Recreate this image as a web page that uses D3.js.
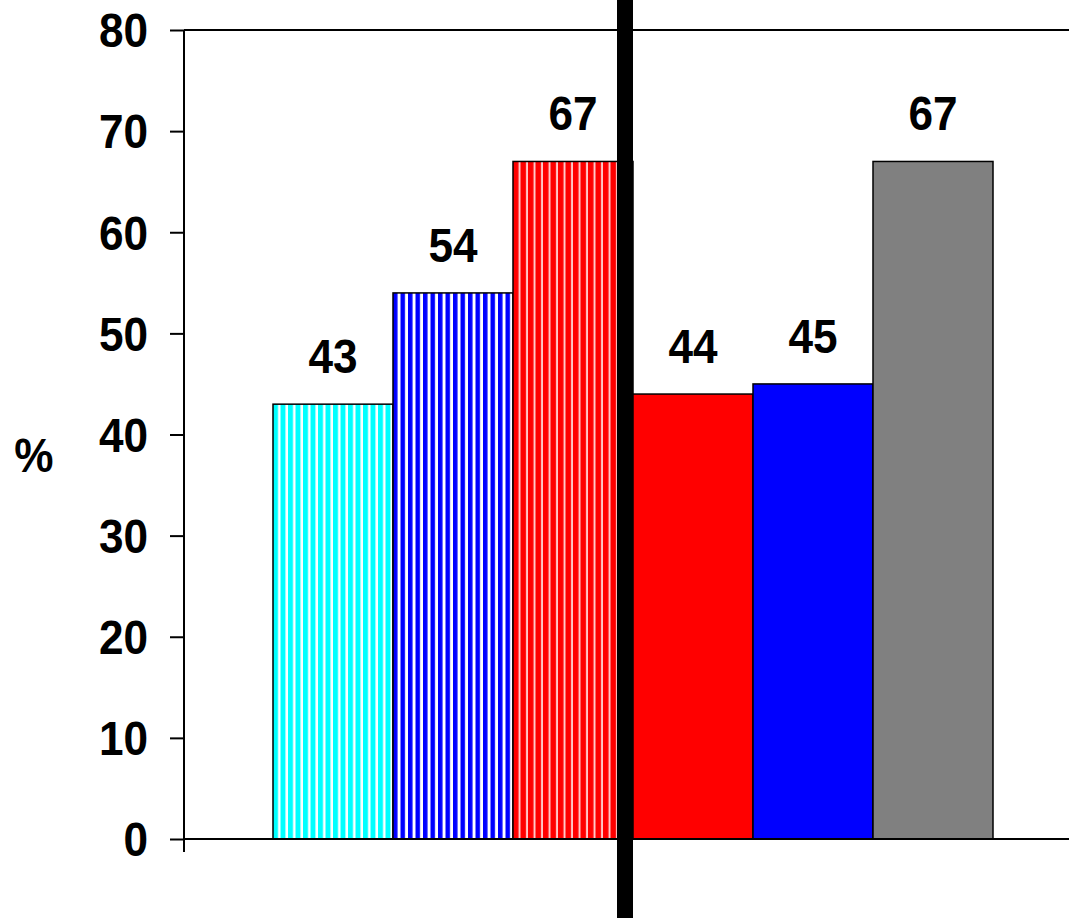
<!DOCTYPE html>
<html>
<head>
<meta charset="utf-8">
<script src="https://cdn.jsdelivr.net/npm/d3@7"></script>
<style>
  html, body { margin: 0; padding: 0; background: #fff; }
  svg { display: block; }
  text { font-family: "Liberation Sans", Arial, Helvetica, sans-serif; font-weight: bold; fill: #000; }
</style>
</head>
<body>
<svg id="chart" width="1069" height="918"></svg>
<script>
// Six groups, split into two sets of three by a heavy divider
const categories = ["g1", "g2", "g3", "g4", "g5", "g6"];
const values = [43, 54, 67, 44, 45, 67];
const fills = ["url(#stripeCyan)", "url(#stripeBlue)", "url(#stripeRed)", "#ff0000", "#0000ff", "#808080"];
const yTicks = [0, 10, 20, 30, 40, 50, 60, 70, 80];
const yLabel = "%";

const svg = d3.select("#chart");
const W = 1069, H = 918;
const axisX = 184, plotRight = 1069;
const fontSize = 48;
const squeeze = 0.92; // slightly condensed lettering

const y = d3.scaleLinear().domain([0, 80]).range([839, 30]);
const x = d3.scaleBand().domain(categories).range([273, 993]).padding(0);

// vertical stripe patterns
const defs = svg.append("defs");
function stripes(id, bg, line, period, lineW) {
  const p = defs.append("pattern")
    .attr("id", id).attr("patternUnits", "userSpaceOnUse")
    .attr("x", 273).attr("width", period).attr("height", 10);
  p.append("rect").attr("width", period).attr("height", 10).attr("fill", bg);
  p.append("rect").attr("x", period - lineW).attr("width", lineW).attr("height", 10).attr("fill", line);
}
stripes("stripeCyan", "#00ffff", "#ffffff", 7.5, 2.5);
stripes("stripeBlue", "#0000ff", "#ffffff", 7.5, 3);
stripes("stripeRed", "#ff0000", "#ffc8c8", 7.5, 2);

// bars
svg.append("g").selectAll("rect")
  .data(values)
  .join("rect")
  .attr("x", (d, i) => x(categories[i]))
  .attr("y", d => y(d))
  .attr("width", x.bandwidth())
  .attr("height", d => y(0) - y(d))
  .attr("fill", (d, i) => fills[i])
  .attr("stroke", "#000")
  .attr("stroke-width", 1.5);

// value labels
svg.append("g").selectAll("text")
  .data(values)
  .join("text")
  .attr("transform", (d, i) => `translate(${x(categories[i]) + x.bandwidth() / 2},${y(d) - 31}) scale(${squeeze},1)`)
  .attr("text-anchor", "middle")
  .attr("font-size", fontSize)
  .text(d => d);

// y axis
const yAxis = d3.axisLeft(y).tickValues(yTicks).tickSize(14).tickPadding(22).tickSizeOuter(0);
const gy = svg.append("g").attr("transform", `translate(${axisX},0)`).call(yAxis);
gy.select(".domain").remove();
gy.selectAll(".tick line").attr("stroke", "#000").attr("stroke-width", 2);
gy.selectAll(".tick text")
  .attr("font-size", fontSize).attr("font-family", null)
  .attr("x", null).attr("dy", "0.35em")
  .attr("transform", `translate(-36,0) scale(${squeeze},1)`);
svg.append("line").attr("x1", axisX).attr("x2", axisX).attr("y1", y(80)).attr("y2", 852)
  .attr("stroke", "#000").attr("stroke-width", 2);

// top and baseline rules across the plot
[0, 80].forEach(v => {
  svg.append("line").attr("x1", axisX).attr("x2", plotRight).attr("y1", y(v)).attr("y2", y(v))
    .attr("stroke", "#000").attr("stroke-width", 2);
});

// divider between the two sets
svg.append("rect").attr("x", x("g4") - 16).attr("y", 0).attr("width", 16).attr("height", H).attr("fill", "#000");

// axis title
svg.append("text").attr("transform", `translate(34,455) scale(${squeeze},1)`).attr("dy", "0.35em")
  .attr("text-anchor", "middle").attr("font-size", fontSize).text(yLabel);
</script>
</body>
</html>
